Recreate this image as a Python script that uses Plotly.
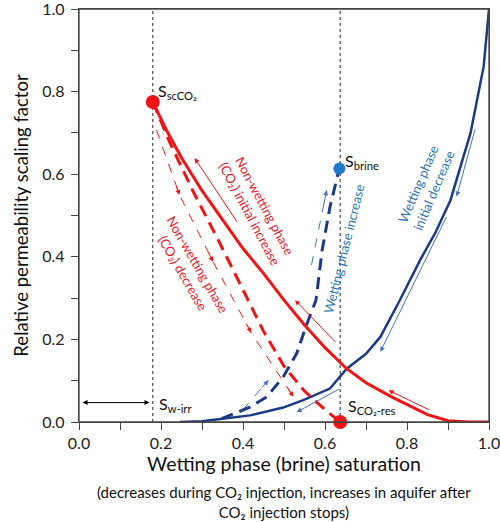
import plotly.graph_objects as go

# ---------------- data ----------------
red_solid_x = [0.18, 0.213, 0.25, 0.30, 0.35, 0.40, 0.45, 0.50, 0.55, 0.60, 0.653, 0.70, 0.76, 0.80, 0.85, 0.90, 0.95, 1.0]
red_solid_y = [0.775, 0.707, 0.64, 0.56, 0.49, 0.42, 0.36, 0.295, 0.235, 0.18, 0.129, 0.095, 0.062, 0.042, 0.018, 0.003, 0.0, 0.0]

blue_solid_x = [0.246, 0.30, 0.335, 0.417, 0.498, 0.547, 0.612, 0.653, 0.70, 0.735, 0.78, 0.832, 0.87, 0.906, 0.955, 0.987, 1.0]
blue_solid_y = [0.0, 0.002, 0.006, 0.016, 0.035, 0.053, 0.081, 0.129, 0.165, 0.206, 0.29, 0.392, 0.46, 0.537, 0.70, 0.861, 1.0]

red_dash_x = [0.18, 0.22, 0.28, 0.34, 0.40, 0.45, 0.50, 0.55, 0.60, 0.637]
red_dash_y = [0.775, 0.68, 0.555, 0.44, 0.32, 0.22, 0.135, 0.075, 0.03, 0.0]

blue_dash_x = [0.348, 0.417, 0.458, 0.498, 0.531, 0.556, 0.578, 0.593, 0.612, 0.635]
blue_dash_y = [0.008, 0.036, 0.061, 0.109, 0.166, 0.238, 0.295, 0.416, 0.52, 0.614]

# thin dashed guide (red) with arrowheads
red_thin_x = [0.189, 0.245, 0.327, 0.42, 0.523]
red_thin_y = [0.707, 0.55, 0.388, 0.216, 0.061]

# thin dashed guides (blue)
blue_thin1_x = [0.40, 0.462]
blue_thin1_y = [0.03, 0.101]
blue_thin2_x = [0.567, 0.604]
blue_thin2_y = [0.38, 0.561]

# key points
s_sc = (0.18, 0.775)
s_res = (0.637, 0.0)
s_brine = (0.635, 0.614)
vlines = [0.18, 0.637]

# solid thin arrows: (tail_x, tail_y, head_x, head_y)
red_arrows = [(0.388, 0.481, 0.282, 0.639), (0.629, 0.19, 0.527, 0.295), (0.857, 0.028, 0.755, 0.077)]
blue_arrows = [(0.967, 0.712, 0.921, 0.546), (0.898, 0.50, 0.735, 0.17), (0.637, 0.081, 0.531, 0.024)]

RED = "#F01414"
RED_TXT = "#E8192C"
NAVY = "#1C3A85"
BLUE_TXT = "#2E75B6"
BLUE_ARR = "#4472C4"
FONT = "Lato"

fig = go.Figure()

for xv in vlines:
    fig.add_trace(go.Scatter(x=[xv, xv], y=[0, 1], mode="lines",
                             line=dict(color="#222", width=1, dash="dot"), showlegend=False))

fig.add_trace(go.Scatter(x=red_thin_x, y=red_thin_y, mode="lines",
                         line=dict(color=RED, width=1, dash="dash"), showlegend=False))
fig.add_trace(go.Scatter(x=blue_thin1_x, y=blue_thin1_y, mode="lines",
                         line=dict(color=BLUE_ARR, width=1, dash="dash"), showlegend=False))
fig.add_trace(go.Scatter(x=blue_thin2_x, y=blue_thin2_y, mode="lines",
                         line=dict(color=BLUE_ARR, width=1, dash="dash"), showlegend=False))

fig.add_trace(go.Scatter(x=blue_solid_x, y=blue_solid_y, mode="lines",
                         line=dict(color=NAVY, width=2.5), showlegend=False))
fig.add_trace(go.Scatter(x=blue_dash_x, y=blue_dash_y, mode="lines",
                         line=dict(color=NAVY, width=3, dash="12px,7px"), showlegend=False))
fig.add_trace(go.Scatter(x=red_solid_x, y=red_solid_y, mode="lines",
                         line=dict(color=RED, width=3), showlegend=False))
fig.add_trace(go.Scatter(x=red_dash_x, y=red_dash_y, mode="lines",
                         line=dict(color=RED, width=3, dash="12px,7px"), showlegend=False))

fig.add_trace(go.Scatter(x=[s_sc[0], s_res[0]], y=[s_sc[1], s_res[1]], mode="markers",
                         marker=dict(color=RED, size=14), showlegend=False, cliponaxis=False))
fig.add_trace(go.Scatter(x=[s_brine[0]], y=[s_brine[1]], mode="markers",
                         marker=dict(color="#1F78C8", size=12), showlegend=False))

ann = []
def arrow(tx, ty, hx, hy, color, side="end"):
    ann.append(dict(x=hx, y=hy, ax=tx, ay=ty, xref="x", yref="y", axref="x", ayref="y",
                    text="", showarrow=True, arrowhead=2, arrowsize=1, arrowwidth=1,
                    arrowcolor=color, standoff=0, startstandoff=0, arrowside=side))

for a in red_arrows:
    arrow(*a, RED)
for a in blue_arrows:
    arrow(*a, BLUE_ARR)

# arrowheads on the thin dashed guides
for i in range(1, len(red_thin_x)):
    px, py = red_thin_x[i - 1], red_thin_y[i - 1]
    hx, hy = red_thin_x[i], red_thin_y[i]
    arrow(hx - (hx - px) * 0.15, hy - (hy - py) * 0.15, hx, hy, RED)
arrow(blue_thin1_x[0] + (blue_thin1_x[1] - blue_thin1_x[0]) * 0.7,
      blue_thin1_y[0] + (blue_thin1_y[1] - blue_thin1_y[0]) * 0.7,
      blue_thin1_x[1], blue_thin1_y[1], BLUE_ARR)
arrow(blue_thin2_x[0] + (blue_thin2_x[1] - blue_thin2_x[0]) * 0.8,
      blue_thin2_y[0] + (blue_thin2_y[1] - blue_thin2_y[0]) * 0.8,
      blue_thin2_x[1], blue_thin2_y[1], BLUE_ARR)

# black double arrow
arrow(0.005, 0.047, 0.172, 0.047, "#000", side="end+start")

def label(x, y, text, size=16, color="#111", xanchor="left", angle=0):
    ann.append(dict(x=x, y=y, xref="x", yref="y", text=text, showarrow=False,
                    xanchor=xanchor, yanchor="middle", textangle=angle,
                    font=dict(family=FONT, size=size, color=color)))

label(0.187, 0.80, "S<sub>scCO₂</sub>")
label(0.645, 0.63, "S<sub>brine</sub>")
label(0.19, 0.042, "S<sub>w-irr</sub>")
label(0.65, 0.038, "S<sub>CO₂-res</sub>")

label(0.436, 0.513, "Non-wetting phase<br>(CO₂) initial increase", size=13, color=RED_TXT, xanchor="center", angle=62)
label(0.271, 0.372, "Non-wetting phase<br>(CO₂) decrease", size=13, color=RED_TXT, xanchor="center", angle=60)
label(0.645, 0.42, "Wetting phase increase", size=13, color=BLUE_TXT, xanchor="center", angle=-76)
label(0.845, 0.569, "Wetting phase<br>initial decrease", size=13, color=BLUE_TXT, xanchor="center", angle=-67)

ann.append(dict(x=0.5, y=-0.142, xref="paper", yref="paper", showarrow=False,
                text="(decreases during CO₂ injection, increases in aquifer after<br>CO₂ injection stops)",
                xanchor="center", yanchor="top", align="center",
                font=dict(family=FONT, size=15, color="#111")))

tick_vals = [i / 10 for i in range(11)]
tick_text = [f"{v:.1f}" if i % 2 == 0 else "" for i, v in enumerate(tick_vals)]

axis_common = dict(range=[0, 1], tickvals=tick_vals, ticktext=tick_text, ticks="outside",
                   ticklen=7, tickcolor="#444", showline=True, linecolor="#444", linewidth=1.3,
                   mirror=True, showgrid=False, zeroline=False, ticklabeloverflow="allow",
                   automargin=False,
                   tickfont=dict(family=FONT, size=16, color="#222"))

fig.update_layout(
    width=500, height=522,
    margin=dict(l=79, r=11, t=9, b=100, autoexpand=False),
    plot_bgcolor="white", paper_bgcolor="white",
    xaxis=dict(**axis_common, title=dict(text="Wetting phase (brine) saturation",
                                        font=dict(family=FONT, size=19.5, color="#111"), standoff=4)),
    yaxis=dict(**axis_common, ticklabelstandoff=3,
               title=dict(text="Relative permeability scaling factor",
                          font=dict(family=FONT, size=18.5, color="#111"), standoff=8)),
    annotations=ann,
    shapes=[dict(type="rect", xref="paper", yref="paper", x0=0, y0=0, x1=1, y1=1,
                 line=dict(color="#444", width=1.3), layer="above")],
    showlegend=False,
)

fig.write_html("out.html")
